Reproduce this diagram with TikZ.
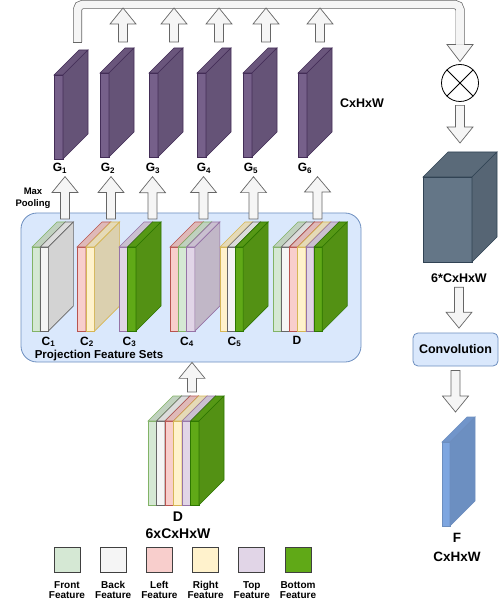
\documentclass[tikz,border=0pt]{standalone}
\usepackage{fontspec}
\setmainfont{Liberation Sans}
\usepackage{tikz}
\usetikzlibrary{calc,positioning}

\definecolor{fillfront}{HTML}{D5E8D4}
\definecolor{linefront}{HTML}{82B366}
\definecolor{fillback}{HTML}{F5F5F5}
\definecolor{lineback}{HTML}{666666}
\definecolor{fillleft}{HTML}{F8CECC}
\definecolor{lineleft}{HTML}{B85450}
\definecolor{fillright}{HTML}{FFF2CC}
\definecolor{lineright}{HTML}{D6B656}
\definecolor{filltop}{HTML}{E1D5E7}
\definecolor{linetop}{HTML}{9673A6}
\definecolor{fillbottom}{HTML}{60A917}
\definecolor{linebottom}{HTML}{2D7600}
\definecolor{slabfill}{HTML}{76608A}
\definecolor{slabline}{HTML}{432D57}
\definecolor{cubefill}{HTML}{647687}
\definecolor{cubeline}{HTML}{314354}
\definecolor{ffill}{HTML}{7EA6E0}
\definecolor{fline}{HTML}{6C8EBF}
\definecolor{boxfill}{HTML}{DAE8FC}
\definecolor{boxline}{HTML}{6C8EBF}
\definecolor{arrowfill}{HTML}{F5F5F5}
\definecolor{arrowline}{HTML}{666666}

\def\dep{25}
\newcommand{\featslab}[6]{%
  \filldraw[fill=#5, draw=#6] (#1,#2) rectangle ++(#3,#4);
  \filldraw[fill=#5!90!black, draw=#6] (#1,#2) -- ++(\dep,-\dep) -- ++(#3,0) -- ++(-\dep,\dep) -- cycle;
  \filldraw[fill=#5!86!black, draw=#6] (#1+#3,#2) -- ++(\dep,-\dep) -- ++(0,#4) -- ++(-\dep,\dep) -- cycle;
}
\newcommand{\layerstack}[4]{%
  \foreach \lay [count=\i from 0] in {#4} {
    \pgfmathsetmacro{\xx}{#1+\i*#3}
    \featslab{\xx}{#2}{#3}{84}{fill\lay}{line\lay}
  }
}
\newcommand{\blockarrow}[2]{%
  \draw[myarrow] let \p1=(#1), \p2=(#2), \p3=($(#2)!16pt!(#1)$) in
    (\x1-4.5pt,\y1) -- (\x1-4.5pt,\y3) -- (\x1-13pt,\y3) -- (\x1,\y2)
    -- (\x1+13pt,\y3) -- (\x1+4.5pt,\y3) -- (\x1+4.5pt,\y1) -- cycle;
}

\begin{document}
\begin{tikzpicture}[
  x=1pt, y=-1pt,
  line width=0.6pt,
  myarrow/.style={draw=arrowline, fill=arrowfill, line width=0.7pt},
  mybracket/.style={draw=arrowline, line width=0.7pt, double=arrowfill,
    double distance=7.6pt, rounded corners=5pt},
  mybox/.style={draw=boxline, fill=boxfill, line width=0.8pt, inner sep=0pt},
  mylabel/.style={font=\bfseries\fontsize{12}{14}\selectfont, inner sep=1pt},
  mybig/.style={font=\bfseries\fontsize{14}{17}\selectfont, align=center, inner sep=0pt},
  mysmall/.style={font=\bfseries\fontsize{10}{10}\selectfont, align=center, inner sep=0pt},
  mysquare/.style={draw=black!75, line width=1pt, minimum width=26pt,
    minimum height=25pt, inner sep=0pt}
]
\useasboundingbox (0,0) rectangle (499,609);

\node[mybox, rounded corners=16pt, minimum width=340pt, minimum height=149pt]
  (proj) at (191,287.5) {};

\layerstack{32}{247}{8.2}{front,back}
\layerstack{77}{247}{8.8}{left,right}
\layerstack{119}{247}{8.5}{top,bottom}
\layerstack{170}{247}{8.3}{left,front,top}
\layerstack{220}{247}{7.7}{right,back,bottom}
\layerstack{273}{247}{8.2}{front,back,left,right,top,bottom}

\foreach \xa/\ya in {54/75, 100/73, 149/73, 197/73, 243/73, 298/73}
  \featslab{\xa}{\ya}{9}{84}{slabfill}{slabline};

\foreach \k/\xa in {1/60, 2/108, 3/153, 4/204, 5/251, 6/305}
  \node[mylabel, anchor=base] (g\k) at (\xa,171.5) {G\textsubscript{\k}};

\node[mylabel, anchor=base] (c1) at (48.5,345) {C\textsubscript{1}};
\node[mylabel, anchor=base] (c2) at (87,345) {C\textsubscript{2}};
\node[mylabel, anchor=base] (c3) at (129.5,345) {C\textsubscript{3}};
\node[mylabel, anchor=base] (c4) at (187,345) {C\textsubscript{4}};
\node[mylabel, anchor=base] (c5) at (234.5,345) {C\textsubscript{5}};
\node[mylabel, anchor=base] (dset) at (297,344) {D};
\node[mylabel, font=\bfseries\fontsize{11.5}{14}\selectfont, anchor=base]
  (projlab) at (99,358) {Projection Feature Sets};
\node[mysmall, font=\bfseries\fontsize{9.5}{11.5}\selectfont]
  (maxpool) at (33,198) {Max\\Pooling};
\node[mylabel, font=\bfseries\fontsize{12.5}{14}\selectfont] (gsize) at (362,103) {CxHxW};

\layerstack{148}{421}{8.5}{front,back,left,right,top,bottom}
\node[mybig] (dlab) at (178,525.5) {D\\6xCxHxW};

\featslab{423}{177}{49}{85}{cubefill}{cubeline};
\node[mylabel, font=\bfseries\fontsize{12.5}{14}\selectfont] (lab6) at (459,278) {6*CxHxW};
\node[mybox, rounded corners=5pt, minimum width=85pt, minimum height=33pt,
  font=\bfseries\fontsize{12.5}{14}\selectfont] (conv) at (455.5,349.5) {Convolution};
\featslab{442}{442}{8}{84}{ffill}{fline};
\node[mybig, font=\bfseries\fontsize{13.5}{19}\selectfont] (flab) at (457,547) {F\\CxHxW};

\node[circle, draw, line width=0.8pt, minimum size=37pt, inner sep=0pt] (otimes) at (460,83) {};
\draw[line width=0.8pt] (otimes.north west) -- (otimes.south east)
  (otimes.north east) -- (otimes.south west);

\coordinate (g1out) at (77.5,42);
\coordinate (bartop) at (0,4.5);
\path ([yshift=19.5pt]otimes.north) coordinate (hb);
\draw[mybracket] (g1out) |- (hb |- bartop) -- (hb);
\draw[arrowline, line width=0.7pt] ([xshift=-4.5pt]g1out) -- ([xshift=4.5pt]g1out);
\filldraw[fill=arrowfill, draw=arrowline, line width=0.7pt]
  ([xshift=4.15pt]hb) -- ([xshift=13pt]hb) -- ([yshift=2.5pt]otimes.north)
  -- ([xshift=-13pt]hb) -- ([xshift=-4.15pt]hb);

\foreach \k/\xa in {2/123, 3/174, 4/219, 5/266, 6/320} {
  \coordinate (gout\k) at (\xa,42);
  \coordinate (gin\k) at (\xa,8);
  \blockarrow{gout\k}{gin\k}
}

\foreach \k/\xa in {1/65, 2/111, 3/152.5, 4/203.5, 5/253.5, 6/317.5} {
  \coordinate (cout\k) at (\xa,219);
  \blockarrow{cout\k}{[yshift=-2pt]g\k.south}
}

\coordinate (dout) at (192,392);
\blockarrow{dout}{proj.south}

\coordinate (cubein) at (460,143);
\blockarrow{[yshift=-3.5pt]otimes.south}{cubein}
\blockarrow{[yshift=-3.5pt]lab6.south}{[yshift=4.5pt]conv.north}
\coordinate (fin) at (459,412);
\blockarrow{[yshift=-4pt]conv.south}{fin}

\foreach \lay/\txt [count=\i from 0] in {front/Front, back/Back, left/Left,
    right/Right, top/Top, bottom/Bottom} {
  \node[mysquare, fill=fill\lay] (leg\lay) at (67+\i*46.2,559.5) {};
  \node[mysmall, below=8.5pt of leg\lay] (legtxt\lay) {\txt\\Feature};
}

\end{tikzpicture}
\end{document}
